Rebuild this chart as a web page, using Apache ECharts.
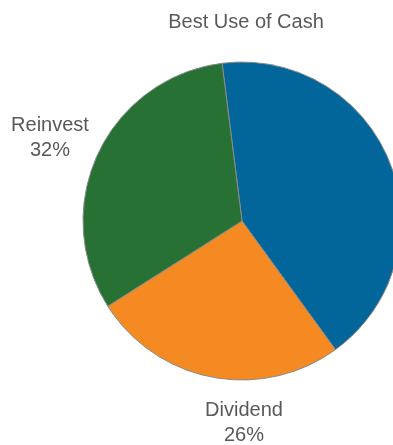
<!DOCTYPE html>
<html>
<head>
<meta charset="utf-8">
<script src="https://cdn.jsdelivr.net/npm/echarts@6/dist/echarts.min.js"></script>
<style>
  html, body { margin: 0; padding: 0; background: #fff; }
  #chart { width: 393px; height: 445px; }
</style>
</head>
<body>
<div id="chart"></div>
<script>
// Survey: preferred use of company cash (percent of responses)
const categories = ['Buyback', 'Dividend', 'Reinvest'];
const shares = [42, 26, 32];
const colors = ['#03669a', '#f58a22', '#277134'];

// Label anchor points (label centres) for the visible slice labels
const labelAnchors = {
  1: [244, 423],
  2: [50, 138]
};

const chart = echarts.init(document.getElementById('chart'));

chart.setOption({
  animation: false,
  title: {
    text: 'Best Use of Cash',
    left: 241,
    top: 7,
    textAlign: 'center',
    textStyle: {
      fontFamily: 'Liberation Sans, Arial, sans-serif',
      fontSize: 20,
      fontWeight: 'normal',
      color: '#595959'
    }
  },
  series: [{
    type: 'pie',
    center: [242, 221],
    radius: [0, 159],
    startAngle: 97.2,
    clockwise: true,
    avoidLabelOverlap: false,
    itemStyle: {
      borderColor: '#8a8a8a',
      borderWidth: 1
    },
    label: {
      show: true,
      position: 'outside',
      formatter: '{b}\n{c}%',
      fontFamily: 'Liberation Sans, Arial, sans-serif',
      fontSize: 20,
      lineHeight: 25,
      color: '#595959',
      align: 'center'
    },
    labelLine: { show: false },
    labelLayout: function (params) {
      const p = labelAnchors[params.dataIndex];
      if (!p) return {};
      return {
        x: p[0],
        y: p[1],
        align: 'center',
        verticalAlign: 'middle'
      };
    },
    emphasis: { disabled: true },
    data: categories.map(function (name, i) {
      const item = {
        name: name,
        value: shares[i],
        itemStyle: { color: colors[i] }
      };
      if (!labelAnchors[i]) item.label = { show: false };
      return item;
    })
  }]
});
</script>
</body>
</html>
